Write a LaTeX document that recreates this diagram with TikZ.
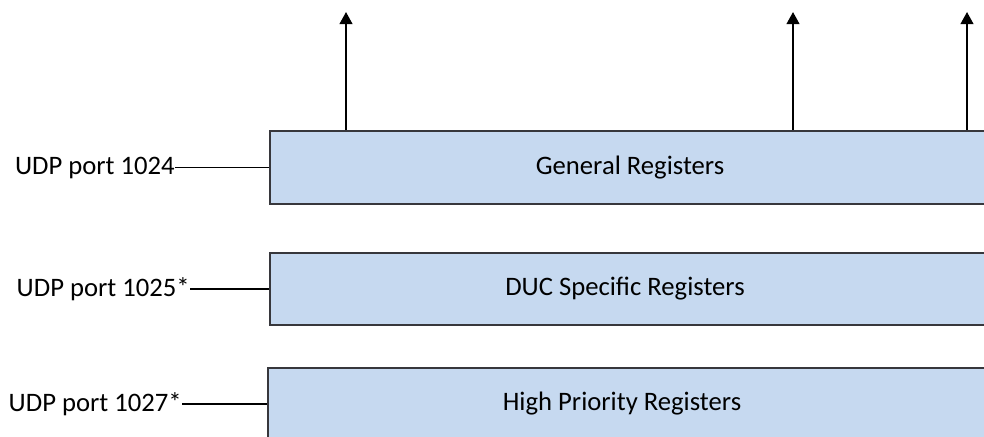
\documentclass[tikz,border=0pt]{standalone}
\usepackage{fontspec}
\setmainfont{Carlito}
\usetikzlibrary{arrows.meta}
\definecolor{regfill}{RGB}{198,217,240}
\definecolor{regline}{RGB}{55,55,60}
\tikzset{
    mynode/.style={font=\rmfamily\mdseries\fontsize{20}{24}\selectfont},
    regbox/.style={draw=regline,fill=regfill,line width=1.5pt,inner sep=0,minimum height=54.5pt},
    portlabel/.style={mynode,anchor=east,inner sep=0},
    uparrow/.style={-{Triangle[width=9.5pt,length=9pt]},line width=1.4pt}
}

\begin{document}
\begin{tikzpicture}[x=0.75pt,y=-0.75pt]
        \useasboundingbox (0,0) rectangle (984,436);
        % register boxes (running off the right edge)
        \node[regbox,minimum width=555pt] (general) at (640,167.5) {};
        \node[regbox,minimum width=555pt] (duc) at (640,289) {};
        \node[regbox,minimum width=557pt] (prio) at (639,404) {};
        \node[mynode] (generaltxt) at (630,167.5) {General Registers};
        \node[mynode] (ductxt) at (625,289) {DUC Specific Registers};
        \node[mynode] (priotxt) at (622,404) {High Priority Registers};

        % port labels
        \node[portlabel] (port1024) at (175,167.5) {UDP port 1024};
        \node[portlabel] (port1025) at (190,289) {UDP port 1025*};
        \node[portlabel] (port1027) at (182,404) {UDP port 1027*};

        % arrow tips
        \coordinate (outA) at (346,12);
        \coordinate (outB) at (793,12);
        \coordinate (outC) at (967,12);

        % lines
        \draw[line width=1pt] (port1024) -- (general.west);
        \draw[line width=1pt] (port1025) -- (duc.west);
        \draw[line width=1pt] (port1027) -- (prio.west);

        %arrows
        \draw[uparrow] (general.north -| outA) -- (outA);
        \draw[uparrow] (general.north -| outB) -- (outB);
        \draw[uparrow] (general.north -| outC) -- (outC);
\end{tikzpicture}
\end{document}
